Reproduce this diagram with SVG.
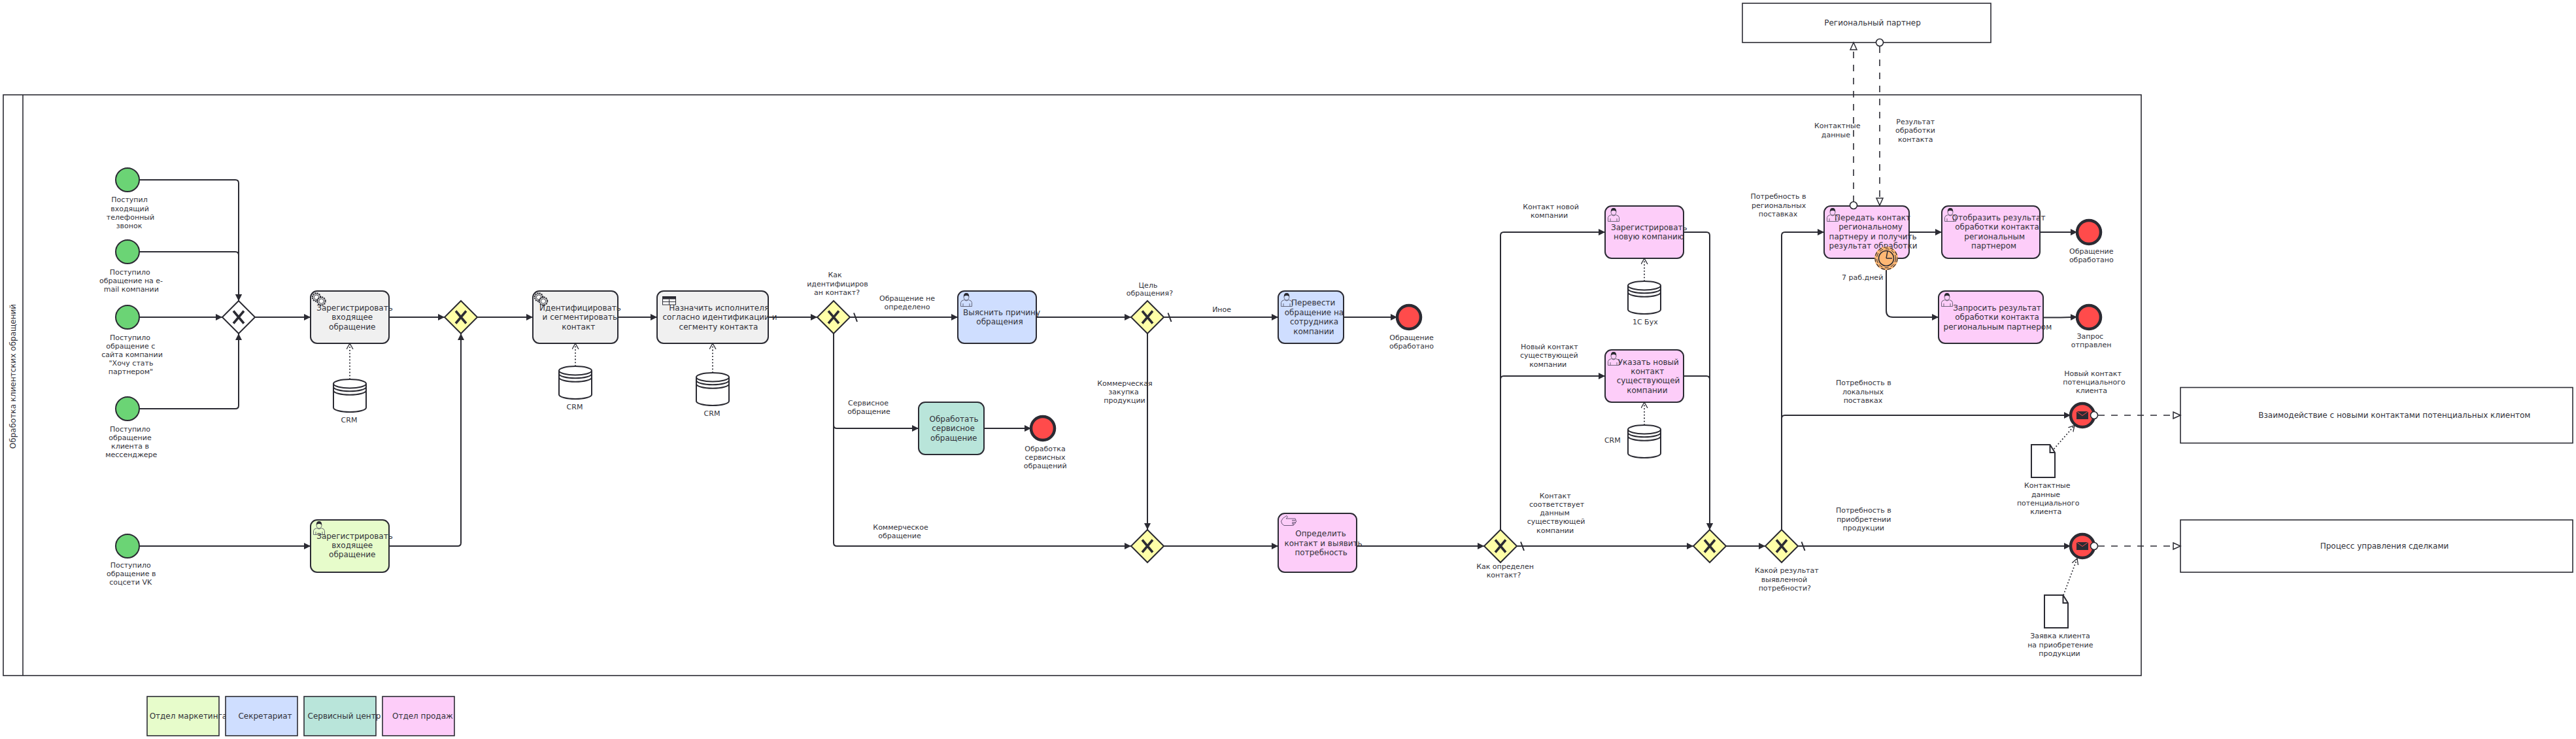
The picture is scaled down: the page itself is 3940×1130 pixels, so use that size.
<svg xmlns="http://www.w3.org/2000/svg" xmlns:xlink="http://www.w3.org/1999/xlink" width="3940" height="1130" viewBox="0 0 3940 1130">
<style>
text{font-family:"DejaVu Sans",sans-serif;fill:#33333b;text-anchor:middle}
.t{font-size:12px}.l{font-size:11px;transform:translateY(-.8px)}
.task{stroke:#2b2b33;stroke-width:2}
.box{fill:#fff;stroke:#2b2b33;stroke-width:1.6}
.grey{fill:#f0f0f0}.lg{fill:#e7fccb}.blue{fill:#cfdeff}.teal{fill:#b9e5da}.pink{fill:#fdcdf9}
.start{fill:#6bd475;stroke:#2b2b33;stroke-width:2}
.end{fill:#ff4b4b;stroke:#2b2b33;stroke-width:4.5}
.gw{fill:#ffffa8;stroke:#2b2b33;stroke-width:2}
.x{fill:none;stroke:#2b2b33;stroke-width:3.6}
.db{fill:#fff;stroke:#2b2b33;stroke-width:2}
.doc{fill:#fff;stroke:#2b2b33;stroke-width:2}
.flow{fill:none;stroke:#2b2b33;stroke-width:2;marker-end:url(#arrow)}
.slash{fill:none;stroke:#2b2b33;stroke-width:2}
.assoc{fill:none;stroke:#2b2b33;stroke-width:1.8;stroke-dasharray:1.8 3;marker-end:url(#open)}
.msg{fill:none;stroke:#2b2b33;stroke-width:1.6;stroke-dasharray:10 10;marker-end:url(#hollow)}
.dot{fill:#fff;stroke:#2b2b33;stroke-width:1.6}
.ic{fill:none;stroke:#4a4a5a;stroke-width:.8}
</style>
<defs>
<marker id="arrow" markerUnits="userSpaceOnUse" markerWidth="11" markerHeight="12" refX="10" refY="5.5" orient="auto"><path d="M0 .5L10 5.5L0 10.5Z" fill="#2b2b33"/></marker>
<marker id="open" markerUnits="userSpaceOnUse" markerWidth="11" markerHeight="12" refX="9" refY="5.500" orient="auto"><path d="M0 .5L9 5.500L0 10.500" fill="none" stroke="#2b2b33" stroke-width="1.300"/></marker>
<marker id="hollow" markerUnits="userSpaceOnUse" markerWidth="14" markerHeight="14" refX="12" refY="6" orient="auto"><path d="M1 1L12 6L1 11Z" fill="#fff" stroke="#2b2b33" stroke-width="1.5"/></marker>
<g id="user"><path class="ic" d="M.5 20.5V14.5Q1 11.5 5.5 10.5Q9 13.5 12.5 10.5Q17 11.5 17.5 14.5V20.5ZM4 16V20.5M14 16V20.5"/><ellipse class="ic" cx="9" cy="6" rx="4" ry="5"/><path d="M5 5.5Q4.500 0 9 0Q13.500 0 13 5.500Q11 3.500 9 4Q7 3.500 5 5.500Z" fill="#2b2b33"/></g>
<g id="cyl"><path class="db" d="M0 6.700V43.300C0 47 11 50 25 50C39 50 50 47 50 43.300V6.700"/><ellipse class="db" cx="25" cy="6.700" rx="25" ry="6.700"/><path class="db" style="fill:none" d="M0 11.500C0 15.200 11 18.200 25 18.200C39 18.200 50 15.200 50 11.500M0 17C0 20.700 11 23.700 25 23.700C39 23.700 50 20.700 50 17"/></g>
<g id="gear"><circle r="6.200" fill="none" stroke="#2b2b33" stroke-width="2.200" stroke-dasharray="1.800 1.450"/><circle r="5.600" fill="#f0f0f0" stroke="#2b2b33" stroke-width=".9"/><circle r="3.600" fill="#fff" stroke="#2b2b33" stroke-width=".9"/></g>
<g id="gw"><path class="gw" d="M0 -25L25 0L0 25L-25 0Z"/><path class="x" d="M-8 -9.500L8 9.500M8 -9.500L-8 9.500"/></g>
<g id="mail"><circle class="end" r="18"/><rect x="-9" y="-6" width="18" height="12" fill="#2b2b33"/><path d="M-9 -6L0 .5L9 -6" fill="none" stroke="#ff4b4b" stroke-width="1"/></g>
</defs>

<g id="pool">
<rect class="box" x="5" y="145" width="3270" height="888"/>
<path d="M35 145V1033" stroke="#2b2b33" stroke-width="1.600" fill="none"/>
<text class="t" transform="translate(23.500 575.500) rotate(-90)">Обработка клиентских обращений</text>
</g>

<g id="event-phone"><circle class="start" cx="195" cy="275" r="18"/><text class="l"><tspan x="198" y="310">Поступил</tspan><tspan x="198.500" y="323.500">входящий</tspan><tspan x="199.500" y="336.500">телефонный</tspan><tspan x="197.500" y="350">звонок</tspan></text></g>
<g id="event-email"><circle class="start" cx="195" cy="385" r="18"/><text class="l"><tspan x="198.700" y="420.500">Поступило</tspan><tspan x="200.500" y="433.500">обращение на е-</tspan><tspan x="200.800" y="446.700">mail компании</tspan></text></g>
<g id="event-site"><circle class="start" cx="195" cy="485" r="18"/><text class="l"><tspan x="199" y="520.500">Поступило</tspan><tspan x="199.700" y="533.500">обращение с</tspan><tspan x="202" y="546.500">сайта компании</tspan><tspan x="200.500" y="560">"Хочу стать</tspan><tspan x="200" y="573">партнером"</tspan></text></g>
<g id="event-messenger"><circle class="start" cx="195" cy="625" r="18"/><text class="l"><tspan x="199" y="660.600">Поступило</tspan><tspan x="199" y="673.600">обращение</tspan><tspan x="199" y="686.600">клиента в</tspan><tspan x="200.800" y="700">мессенджере</tspan></text></g>
<g id="event-vk"><circle class="start" cx="195" cy="835" r="18"/><text class="l"><tspan x="199.700" y="868.700">Поступило</tspan><tspan x="200.800" y="881.900">обращение в</tspan><tspan x="199.700" y="894.800">соцсети VK</tspan></text></g>

<g id="gw-start"><path class="gw" style="fill:#fff" d="M365 460L390 485L365 510L340 485Z"/><path class="x" d="M357 475.500L373 494.500M373 475.500L357 494.500"/></g>

<g id="task-register"><rect class="task grey" x="475" y="445" width="120" height="80" rx="10"/><use xlink:href="#gear" x="484" y="454.500"/><use xlink:href="#gear" x="491.500" y="460.500"/><text class="t"><tspan x="542.500" y="474.500">Зарегистрировать</tspan><tspan x="538.700" y="489">входящее</tspan><tspan x="538.800" y="503.500">обращение</tspan></text></g>
<g id="db-crm1"><use xlink:href="#cyl" x="510" y="580"/><text class="l" x="534" y="647">CRM</text></g>
<g id="task-register-vk"><rect class="task lg" x="475" y="795" width="120" height="80" rx="10"/><use xlink:href="#user" x="479" y="797"/><text class="t"><tspan x="542.500" y="824">Зарегистрировать</tspan><tspan x="538.700" y="838.200">входящее</tspan><tspan x="538.800" y="852">обращение</tspan></text></g>
<g id="gw-merge"><use xlink:href="#gw" x="705" y="485"/></g>

<g id="task-identify"><rect class="task grey" x="815" y="445" width="130" height="80" rx="10"/><use xlink:href="#gear" x="824" y="454.500"/><use xlink:href="#gear" x="831" y="460.500"/><text class="t"><tspan x="887.500" y="474.500">Идентифицировать</tspan><tspan x="886.800" y="489">и сегментировать</tspan><tspan x="884.700" y="503.500">контакт</tspan></text></g>
<g id="db-crm2"><use xlink:href="#cyl" x="855" y="560"/><text class="l" x="879" y="627">CRM</text></g>
<g id="task-assign"><rect class="task grey" x="1005" y="445" width="170" height="80" rx="10"/><rect x="1013.500" y="453.500" width="20" height="12.500" fill="#fff" stroke="#2b2b33"/><rect x="1013" y="453" width="21" height="4.500" fill="#2b2b33"/><path d="M1013.500 461.500H1033.500M1023.500 457.500V466" stroke="#2b2b33" fill="none"/><text class="t"><tspan x="1099.700" y="474.500">Назначить исполнителя</tspan><tspan x="1101" y="489">согласно идентификации и</tspan><tspan x="1099" y="503.500">сегменту контакта</tspan></text></g>
<g id="db-crm3"><use xlink:href="#cyl" x="1065" y="570"/><text class="l" x="1089" y="637">CRM</text></g>

<g id="gw-identified"><use xlink:href="#gw" x="1275" y="485"/><text class="l"><tspan x="1277" y="425">Как</tspan><tspan x="1281" y="438.700">идентифициров</tspan><tspan x="1280" y="451.700">ан контакт?</tspan></text></g>
<g id="task-reason"><rect class="task blue" x="1465" y="445" width="120" height="80" rx="10"/><use xlink:href="#user" x="1469" y="448"/><text class="t"><tspan x="1532" y="481.500">Выяснить причину</tspan><tspan x="1529" y="496">обращения</tspan></text></g>
<g id="task-service"><rect class="task teal" x="1405" y="615" width="100" height="80" rx="10"/><text class="t"><tspan x="1459" y="644.500">Обработать</tspan><tspan x="1458" y="659">сервисное</tspan><tspan x="1458.800" y="673.500">обращение</tspan></text></g>
<g id="end-service"><circle class="end" cx="1595" cy="655" r="18"/><text class="l"><tspan x="1598.500" y="690.600">Обработка</tspan><tspan x="1598.500" y="704">сервисных</tspan><tspan x="1598.700" y="717">обращений</tspan></text></g>
<g id="gw-purpose"><use xlink:href="#gw" x="1755" y="485"/><text class="l"><tspan x="1756" y="440.400">Цель</tspan><tspan x="1758.400" y="453.300">обращения?</tspan></text></g>
<g id="gw-commercial"><use xlink:href="#gw" x="1755" y="835"/></g>
<g id="task-transfer"><rect class="task blue" x="1955" y="445" width="100" height="80" rx="10"/><use xlink:href="#user" x="1959" y="448"/><text class="t"><tspan x="2008.700" y="467.300">Перевести</tspan><tspan x="2010" y="481.800">обращение на</tspan><tspan x="2010" y="496.300">сотрудника</tspan><tspan x="2009.400" y="510.800">компании</tspan></text></g>
<g id="end-done"><circle class="end" cx="2155" cy="485" r="18"/><text class="l"><tspan x="2159" y="520.600">Обращение</tspan><tspan x="2159" y="533.500">обработано</tspan></text></g>
<g id="task-need"><rect class="task pink" x="1955" y="785" width="120" height="90" rx="10"/><path fill="none" stroke="#5a4a6a" stroke-width=".9" d="M1959.500 797Q1961 792 1968 788.500L1969.500 790.500L1967 793H1981Q1983 794 1981 795.500H1976H1982Q1983.500 797 1982 798.500H1976H1981Q1982 800 1980.500 801H1976H1979Q1979.500 803 1978 803.500H1964Q1960 802 1959.500 797Z"/><text class="t"><tspan x="2020" y="820">Определить</tspan><tspan x="2024" y="834.500">контакт и выявить</tspan><tspan x="2020.700" y="849">потребность</tspan></text></g>
<g id="gw-howcontact"><use xlink:href="#gw" x="2295" y="835"/><text class="l"><tspan x="2302" y="870.800">Как определен</tspan><tspan x="2300" y="884">контакт?</tspan></text></g>
<g id="task-newcompany"><rect class="task pink" x="2455" y="315" width="120" height="80" rx="10"/><use xlink:href="#user" x="2459" y="318"/><text class="t"><tspan x="2522.300" y="351.500">Зарегистрировать</tspan><tspan x="2522" y="366">новую компанию</tspan></text></g>
<g id="db-1c"><use xlink:href="#cyl" x="2490" y="430"/><text class="l" x="2516.300" y="497">1С Бух</text></g>
<g id="task-newcontact"><rect class="task pink" x="2455" y="535" width="120" height="80" rx="10"/><use xlink:href="#user" x="2459" y="538"/><text class="t"><tspan x="2521.300" y="557.500">Указать новый</tspan><tspan x="2519.700" y="571.800">контакт</tspan><tspan x="2521" y="586.200">существующей</tspan><tspan x="2519.300" y="600.500">компании</tspan></text></g>
<g id="db-crm4"><use xlink:href="#cyl" x="2490" y="650"/><text class="l" x="2466.300" y="678">CRM</text></g>
<g id="gw-merge2"><use xlink:href="#gw" x="2615" y="835"/></g>
<g id="gw-result"><use xlink:href="#gw" x="2725" y="835"/><text class="l"><tspan x="2732.800" y="877.300">Какой результат</tspan><tspan x="2729" y="890.700">выявленной</tspan><tspan x="2729.800" y="903.700">потребности?</tspan></text></g>

<g id="task-pass"><rect class="task pink" x="2790" y="315" width="130" height="80" rx="10"/><use xlink:href="#user" x="2794" y="318"/><text class="t"><tspan x="2864" y="336.500">Передать контакт</tspan><tspan x="2861" y="351">региональному</tspan><tspan x="2864.600" y="365.500">партнеру и получить</tspan><tspan x="2865" y="380">результат обработки</tspan></text></g>
<g id="timer"><circle cx="2885" cy="395" r="18" fill="#ffb874"/><circle cx="2885" cy="395" r="17" fill="none" stroke="#2b2b33" stroke-width="1.200" stroke-dasharray="6 3.500"/><circle cx="2885" cy="395" r="14.500" fill="none" stroke="#2b2b33" stroke-width="1" stroke-dasharray="6 3.500"/><circle cx="2885" cy="395" r="11.500" fill="#ffb874" stroke="#2b2b33" stroke-width="1.600"/><path d="M2885 395L2887 384M2885 395L2894 395" fill="none" stroke="#2b2b33" stroke-width="1.500"/><text class="l" x="2848.700" y="429">7 раб.дней</text></g>
<g id="task-show"><rect class="task pink" x="2970" y="315" width="150" height="80" rx="10"/><use xlink:href="#user" x="2974" y="318"/><text class="t"><tspan x="3057" y="336.500">Отобразить результат</tspan><tspan x="3054.600" y="351">обработки контакта</tspan><tspan x="3050.700" y="365.500">региональным</tspan><tspan x="3049.600" y="380">партнером</tspan></text></g>
<g id="task-request"><rect class="task pink" x="2965" y="445" width="160" height="80" rx="10"/><use xlink:href="#user" x="2969" y="448"/><text class="t"><tspan x="3054.500" y="474.500">Запросить результат</tspan><tspan x="3054.600" y="489">обработки контакта</tspan><tspan x="3055.400" y="503.500">региональным партнером</tspan></text></g>
<g id="end-done2"><circle class="end" cx="3195" cy="355" r="18"/><text class="l"><tspan x="3198.800" y="389.300">Обращение</tspan><tspan x="3198.800" y="402.300">обработано</tspan></text></g>
<g id="end-requested"><circle class="end" cx="3195" cy="485" r="18"/><text class="l"><tspan x="3196.800" y="519.300">Запрос</tspan><tspan x="3198.600" y="532.300">отправлен</tspan></text></g>
<g id="end-contact"><use xlink:href="#mail" x="3185" y="635"/><text class="l"><tspan x="3201" y="575.500">Новый контакт</tspan><tspan x="3203" y="588.700">потенциального</tspan><tspan x="3199" y="601.700">клиента</tspan></text></g>
<g id="end-deal"><use xlink:href="#mail" x="3185" y="835"/></g>
<g id="doc-contact"><path class="doc" d="M3107 680H3135.500L3143 692V730H3107ZM3135.500 680V692H3143"/><text class="l"><tspan x="3131.300" y="747.300">Контактные</tspan><tspan x="3129" y="760.700">данные</tspan><tspan x="3132.700" y="773.700">потенциального</tspan><tspan x="3129.300" y="787">клиента</tspan></text></g>
<g id="doc-order"><path class="doc" d="M3127 910H3155.500L3163 922V960H3127ZM3155.500 910V922H3163"/><text class="l"><tspan x="3151" y="977.300">Заявка клиента</tspan><tspan x="3151.300" y="990.700">на приобретение</tspan><tspan x="3150" y="1004">продукции</tspan></text></g>

<g id="pool-partner"><rect class="box" x="2665" y="5" width="380" height="60"/><text class="t" x="2864" y="38.700">Региональный партнер</text></g>
<g id="pool-contacts"><rect class="box" x="3335" y="592.500" width="600" height="85"/><text class="t" x="3662.300" y="638.500">Взаимодействие с новыми контактами потенциальных клиентом</text></g>
<g id="pool-deals"><rect class="box" x="3335" y="795" width="600" height="80"/><text class="t" x="3647" y="839">Процесс управления сделками</text></g>

<g id="legend-marketing"><rect class="lg" x="225" y="1065" width="110" height="60" stroke="#2b2b33" stroke-width="1.600"/><text class="t" x="287.900" y="1099">Отдел маркетинга</text></g>
<g id="legend-secretary"><rect class="blue" x="345" y="1065" width="110" height="60" stroke="#2b2b33" stroke-width="1.600"/><text class="t" x="405.500" y="1099">Секретариат</text></g>
<g id="legend-service"><rect class="teal" x="465" y="1065" width="110" height="60" stroke="#2b2b33" stroke-width="1.600"/><text class="t" x="526.400" y="1099">Сервисный центр</text></g>
<g id="legend-sales"><rect class="pink" x="585" y="1065" width="110" height="60" stroke="#2b2b33" stroke-width="1.600"/><text class="t" x="646.400" y="1099">Отдел продаж</text></g>

<g id="connectors">
<path class="flow" d="M213 275H360Q365 275 365 280V460"/>
<path class="flow" d="M213 385H360Q365 385 365 390V460"/>
<path class="flow" d="M213 485H340"/>
<path class="flow" d="M213 625H360Q365 625 365 620V510"/>
<path class="flow" d="M390 485H475"/>
<path class="flow" d="M595 485H680"/>
<path class="flow" d="M213 835H475"/>
<path class="flow" d="M595 835H700Q705 835 705 830V510"/>
<path class="flow" d="M730 485H815"/>
<path class="flow" d="M945 485H1005"/>
<path class="flow" d="M1175 485H1250"/>
<path class="flow" d="M1300 485H1465"/>
<path class="flow" d="M1275 510V650Q1275 655 1280 655H1405"/>
<path class="flow" d="M1275 510V830Q1275 835 1280 835H1730"/>
<path class="flow" d="M1505 655H1577"/>
<path class="flow" d="M1585 485H1730"/>
<path class="flow" d="M1780 485H1955"/>
<path class="flow" d="M1755 510V810"/>
<path class="flow" d="M1780 835H1955"/>
<path class="flow" d="M2055 485H2137"/>
<path class="flow" d="M2075 835H2270"/>
<path class="flow" d="M2320 835H2590"/>
<path class="flow" d="M2295 810V360Q2295 355 2300 355H2455"/>
<path class="flow" d="M2295 810V580Q2295 575 2300 575H2455"/>
<path class="flow" d="M2575 355H2610Q2615 355 2615 360V810"/>
<path class="flow" d="M2575 575H2610Q2615 575 2615 580V810"/>
<path class="flow" d="M2640 835H2700"/>
<path class="flow" d="M2725 810V360Q2725 355 2730 355H2790"/>
<path class="flow" d="M2725 810V640Q2725 635 2730 635H3167"/>
<path class="flow" d="M2750 835H3167"/>
<path class="flow" d="M2920 355H2970"/>
<path class="flow" d="M3120 355H3177"/>
<path class="flow" d="M2885 413V475Q2885 485 2895 485H2965"/>
<path class="flow" d="M3125 485.500H3152L3177 484.800"/>
<path class="slash" d="M1306 478.500L1311 492M1786.500 478.500L1791.500 492M2326 828.500L2331 842M2755.500 828.500L2760.500 842"/>
<path class="assoc" d="M535 580V525"/>
<path class="assoc" d="M880 560V525"/>
<path class="assoc" d="M1090 570V525"/>
<path class="assoc" d="M2515 430V395"/>
<path class="assoc" d="M2515 650V615"/>
<path class="assoc" d="M3141.500 686.500L3173 650.500"/>
<path class="assoc" d="M3156 910L3177 854"/>
<path class="msg" d="M2835 309V65"/>
<path class="msg" d="M2875 71V314"/>
<path class="msg" d="M3209 635H3335"/>
<path class="msg" d="M3209 835H3335"/>
<circle class="dot" cx="2835" cy="314" r="5.500"/>
<circle class="dot" cx="2875" cy="65" r="5.500"/>
<circle class="dot" cx="3203" cy="635" r="5.500"/>
<circle class="dot" cx="3203" cy="835" r="5.500"/>
</g>

<g id="flow-labels">
<text class="l"><tspan x="1387.500" y="461">Обращение не</tspan><tspan x="1387.500" y="474">определено</tspan></text>
<text class="l"><tspan x="1328" y="621.300">Сервисное</tspan><tspan x="1329" y="634.300">обращение</tspan></text>
<text class="l"><tspan x="1377.500" y="810.600">Коммерческое</tspan><tspan x="1376" y="824">обращение</tspan></text>
<text class="l" x="1868.600" y="477.400">Иное</text>
<text class="l"><tspan x="1720.400" y="590.600">Коммерческая</tspan><tspan x="1718.600" y="604">закупка</tspan><tspan x="1720" y="617">продукции</tspan></text>
<text class="l"><tspan x="2372" y="321">Контакт новой</tspan><tspan x="2369.500" y="334.300">компании</tspan></text>
<text class="l"><tspan x="2369.800" y="535">Новый контакт</tspan><tspan x="2369.300" y="548.300">существующей</tspan><tspan x="2367.700" y="561.700">компании</tspan></text>
<text class="l"><tspan x="2378.600" y="762.500">Контакт</tspan><tspan x="2381" y="775.800">соответствует</tspan><tspan x="2378" y="789">данным</tspan><tspan x="2380" y="802">существующей</tspan><tspan x="2378.600" y="815.600">компании</tspan></text>
<text class="l"><tspan x="2720" y="305.300">Потребность в</tspan><tspan x="2720.600" y="318.700">региональных</tspan><tspan x="2719.500" y="331.700">поставках</tspan></text>
<text class="l"><tspan x="2810.300" y="197.300">Контактные</tspan><tspan x="2807.900" y="210.700">данные</tspan></text>
<text class="l"><tspan x="2929.700" y="191.300">Результат</tspan><tspan x="2929.500" y="204.300">обработки</tspan><tspan x="2929.700" y="217.700">контакта</tspan></text>
<text class="l"><tspan x="2850.300" y="590.300">Потребность в</tspan><tspan x="2849.400" y="603.700">локальных</tspan><tspan x="2849.400" y="616.700">поставках</tspan></text>
<text class="l"><tspan x="2850.300" y="785.300">Потребность в</tspan><tspan x="2850.800" y="798.700">приобретении</tspan><tspan x="2850.300" y="811.700">продукции</tspan></text>
</g>
</svg>
